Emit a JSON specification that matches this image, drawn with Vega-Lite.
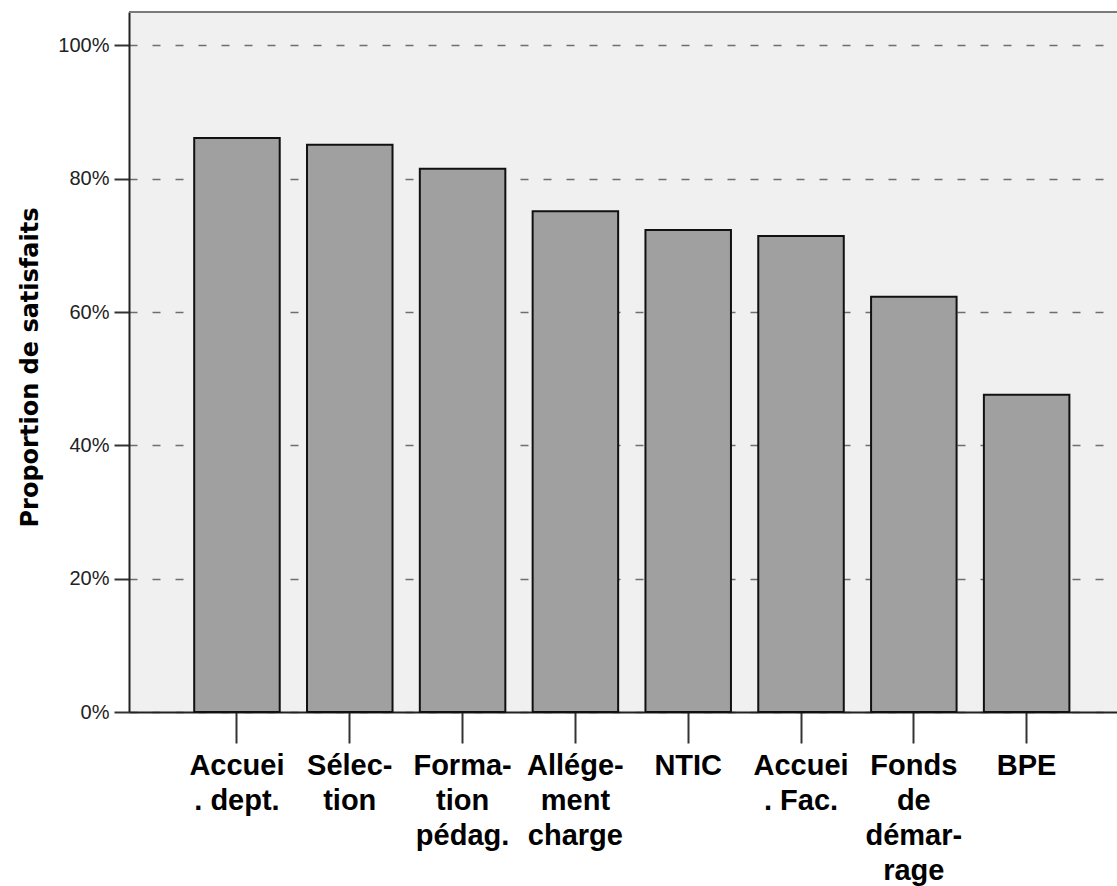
{
  "$schema": "https://vega.github.io/schema/vega-lite/v6.json",
  "width": 988,
  "height": 700,
  "autosize": {"type": "none"},
  "padding": {"left": 129, "top": 12, "right": 0, "bottom": 174},
  "background": "white",
  "config": {
    "view": {"fill": "#f0f0f0", "stroke": null}
  },
  "data": {
    "values": [
      {"item": "Accuei|. dept.", "p": 0.861},
      {"item": "Sélec-|tion", "p": 0.851},
      {"item": "Forma-|tion|pédag.", "p": 0.815},
      {"item": "Allége-|ment|charge", "p": 0.751},
      {"item": "NTIC", "p": 0.723},
      {"item": "Accuei|. Fac.", "p": 0.714},
      {"item": "Fonds|de|démar-|rage", "p": 0.623},
      {"item": "BPE", "p": 0.476}
    ]
  },
  "layer": [
    {
      "mark": {"type": "bar", "fill": "#a0a0a0", "stroke": "#111111", "strokeWidth": 2},
      "encoding": {
        "x": {
          "field": "item",
          "type": "nominal",
          "sort": null,
          "scale": {"paddingInner": 0.242, "paddingOuter": 0.5, "align": 0.578},
          "axis": {
            "title": null,
            "labelExpr": "split(datum.label, '|')",
            "labelAngle": 0,
            "labelAlign": "center",
            "labelBaseline": "top",
            "labelFont": "Liberation Sans",
            "labelFontWeight": "bold",
            "labelFontSize": 29,
            "labelLineHeight": 35,
            "labelColor": "#000000",
            "labelPadding": 8,
            "labelOverlap": false,
            "labelLimit": 0,
            "tickSize": 31,
            "tickWidth": 2,
            "tickColor": "#333333",
            "domainColor": "#222222",
            "domainWidth": 2,
            "grid": false
          }
        },
        "y": {
          "field": "p",
          "type": "quantitative",
          "scale": {"domain": [0, 1.05], "nice": false, "zero": true},
          "axis": {
            "values": [0, 0.2, 0.4, 0.6, 0.8, 1.0],
            "format": ".0%",
            "labelFont": "Liberation Sans",
            "labelFontSize": 20,
            "labelColor": "#222222",
            "labelPadding": 5,
            "tickSize": 15,
            "tickWidth": 2,
            "tickColor": "#333333",
            "domainColor": "#222222",
            "domainWidth": 2,
            "grid": true,
            "gridDash": [8, 15],
            "gridColor": "#6e6e6e",
            "gridWidth": 1.5,
            "title": "Proportion de satisfaits",
            "titleFont": "DejaVu Sans",
            "titleFontSize": 24,
            "titleFontWeight": "bold",
            "titleColor": "#000000",
            "titleAngle": -90,
            "titleAlign": "center",
            "titleBaseline": "alphabetic",
            "titleX": -92,
            "titleY": 355
          }
        }
      }
    },
    {
      "mark": {"type": "rule", "color": "#7a7a7a", "strokeWidth": 2},
      "encoding": {"y": {"datum": 1.05}}
    }
  ]
}
